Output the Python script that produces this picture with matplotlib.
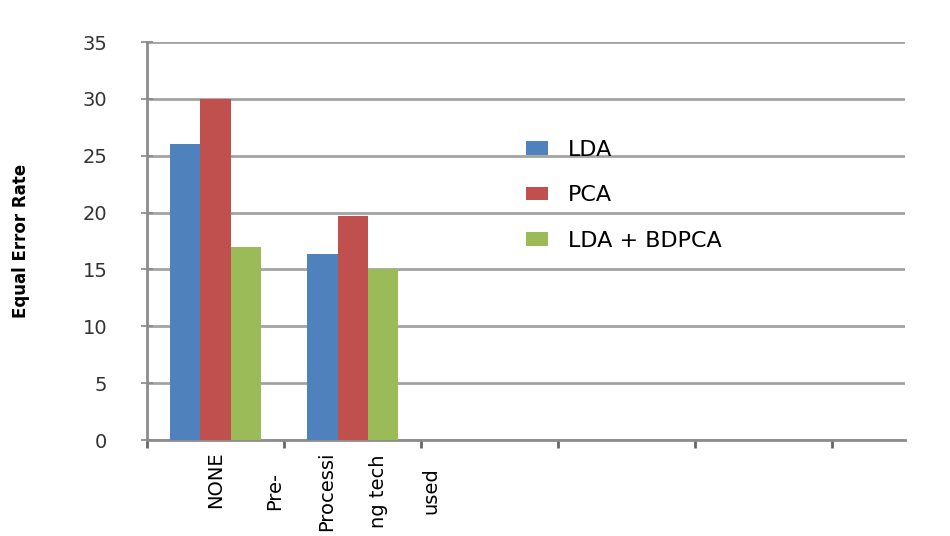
import numpy as np
import matplotlib.pyplot as plt

# data
categories = ["NONE", "Pre-\nProcessi\nng tech\nused"]
series_names = ["LDA", "PCA", "LDA + BDPCA"]
lda = [26, 16.4]
pca = [30, 19.7]
lda_bdpca = [17, 15]
y_ticks = [0, 5, 10, 15, 20, 25, 30, 35]

colors = ["#4F81BD", "#C0504D", "#9BBB59"]

fig = plt.figure(figsize=(9.5, 5.36), dpi=100)
ax = fig.add_axes([0.1547, 0.179, 0.798, 0.7425])

x = np.arange(len(categories))
w = 0.22
for k, (vals, name) in enumerate(zip([lda, pca, lda_bdpca], series_names)):
    ax.bar(x + (k - 1) * w, vals, width=w, color=colors[k], label=name, zorder=3)

ax.set_xlim(-0.5, 5.03)
ax.set_ylim(0, 35)
ax.set_yticks(y_ticks)
ax.set_axisbelow(True)
ax.yaxis.grid(True, color="#a3a3a3", linewidth=2)

# tick marks on category boundaries (major), labels on centers (minor)
ax.set_xticks(np.arange(-0.5, 5, 1.0))
ax.set_xticklabels([])
ax.set_xticks(x, minor=True)
ax.set_xticklabels(categories, minor=True, rotation=90, ha="center", va="top",
                   multialignment="center", linespacing=3.2, fontsize=14)
ax.tick_params(axis="x", which="minor", length=0, pad=8)
ax.tick_params(axis="x", which="major", length=6, width=2, color="#666666",
               direction="out")
ax.tick_params(axis="y", length=9, width=1.2, color="#888888", direction="inout",
               pad=24, labelsize=14, labelcolor="#333333")

for side in ["top", "right"]:
    ax.spines[side].set_visible(False)
for side in ["left", "bottom"]:
    ax.spines[side].set_color("#8c8c8c")
    ax.spines[side].set_linewidth(2)

ax.set_ylabel("Equal Error Rate", fontsize=12, fontweight="bold")
ax.yaxis.set_label_coords(-0.154, 0.5)

ax.legend(loc="center left", bbox_to_anchor=(0.5, 0.615), frameon=False,
          fontsize=16, handlelength=1.0, handleheight=0.55, handletextpad=0.9,
          labelspacing=1.15, borderpad=0, borderaxespad=0)

fig.savefig("out.png", dpi=100)
